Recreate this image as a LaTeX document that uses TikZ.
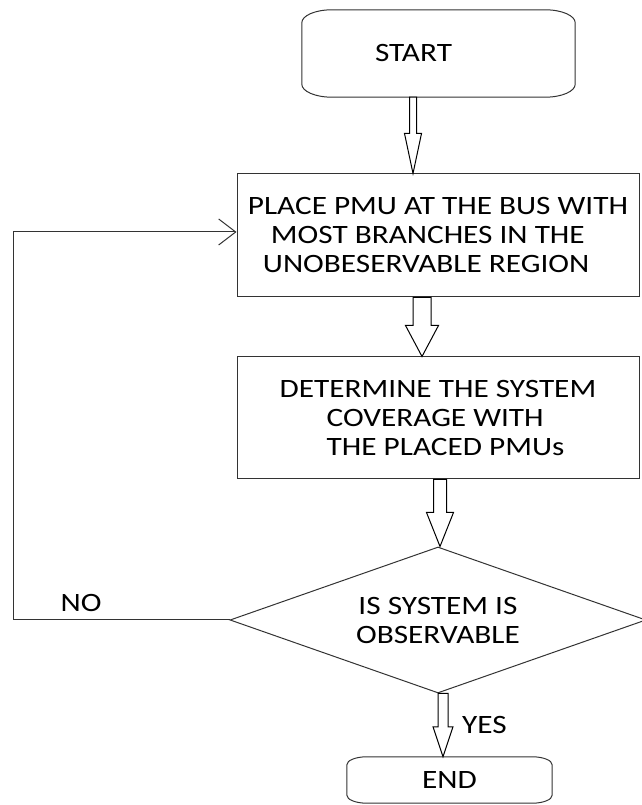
\documentclass[tikz,border=0pt]{standalone}
\usepackage{fontspec}
\setmainfont{Carlito}[FakeStretch=1.18]
\usetikzlibrary{arrows.meta,calc,shapes.geometric}

% outline of a terminal box with elliptical corners, drawn around node #1
\newcommand\termframe[3]{%
  \draw[outline] ([xshift=#2]#1.north west) -- ([xshift=-#2]#1.north east)
    arc[start angle=90,end angle=0,x radius=#2,y radius=#3]
    -- ([yshift=#3]#1.south east)
    arc[start angle=0,end angle=-90,x radius=#2,y radius=#3]
    -- ([xshift=#2]#1.south west)
    arc[start angle=270,end angle=180,x radius=#2,y radius=#3]
    -- ([yshift=-#3]#1.north west)
    arc[start angle=180,end angle=90,x radius=#2,y radius=#3] -- cycle;}

% hollow block arrow from #1 straight down to the height of #2
% #3 half shaft width, #4 half head width, #5 head length
\newcommand\hollowarrow[5]{%
  \draw[blockarrow] let \p1=(#1), \p2=(#2) in
    (\x1-#3,\y1) -- (\x1-#3,\y2+#5) -- (\x1-#4,\y2+#5) -- (\x1,\y2)
    -- (\x1+#4,\y2+#5) -- (\x1+#3,\y2+#5) -- (\x1+#3,\y1) -- cycle;}

\tikzset{
  outline/.style={draw=black!80, line width=1pt},
  txt/.style={font=\fontsize{26.5}{29}\selectfont, text=black},
  process/.style={outline, txt, rectangle, inner sep=0pt, align=left},
  terminal/.style={txt, rectangle, inner sep=0pt},
  decision/.style={outline, txt, diamond, inner sep=0pt, align=center},
  blockarrow/.style={draw=black, line width=1pt, fill=white},
  flow/.style={outline, -{Straight Barb[length=17pt,width=26pt,line width=1pt]}},
}

\begin{document}
\begin{tikzpicture}[x=1pt,y=1pt]
  \useasboundingbox (0,0) rectangle (641,805);

  % terminals
  \node[terminal, minimum width=273pt, minimum height=87pt] (start)
    at (438.5,751.5) {\hspace*{-50pt}START};
  \termframe{start}{30pt}{13pt}

  \node[terminal, minimum width=205pt, minimum height=46pt] (end)
    at (449.5,25) {END};
  \termframe{end}{20pt}{8pt}

  % process steps
  \node[process, minimum width=402pt, minimum height=123pt] (place)
    at (438,569.5)
    {PLACE PMU AT THE BUS WITH\\
     \hspace*{23pt}MOST BRANCHES IN THE\\
     \hspace*{15pt}UNOBESERVABLE REGION};

  \node[process, minimum width=402pt, minimum height=122pt] (cover)
    at (438,387)
    {DETERMINE THE SYSTEM\\
     \hspace*{47pt}COVERAGE WITH\\
     \hspace*{47pt}THE PLACED PMUs};

  % decision
  \node[decision, minimum width=416pt, minimum height=146pt, aspect=2.85] (check)
    at (438,185) {IS SYSTEM IS\\OBSERVABLE};

  % block arrows of the main flow
  \hollowarrow{[xshift=-25.5pt]start.south}{place.north}{3.5pt}{8.5pt}{40pt}
  \hollowarrow{[xshift=-16pt]place.south}{cover.north}{9pt}{16.5pt}{31pt}
  \hollowarrow{[xshift=2pt]cover.south}{check.north}{6.5pt}{13.5pt}{34pt}
  \hollowarrow{[xshift=5pt]check.south}{end.north}{5pt}{10pt}{30pt}

  % loop back when the system is not yet observable
  \coordinate (loopx) at (13,0);
  \draw[flow] (check.west) -- (check.west -| loopx)
    |- ([yshift=3.5pt]place.west);

  \node[txt] (no) at (81,202) {NO};
  \node[txt] (yes) at (484.5,80) {YES};
\end{tikzpicture}
\end{document}
